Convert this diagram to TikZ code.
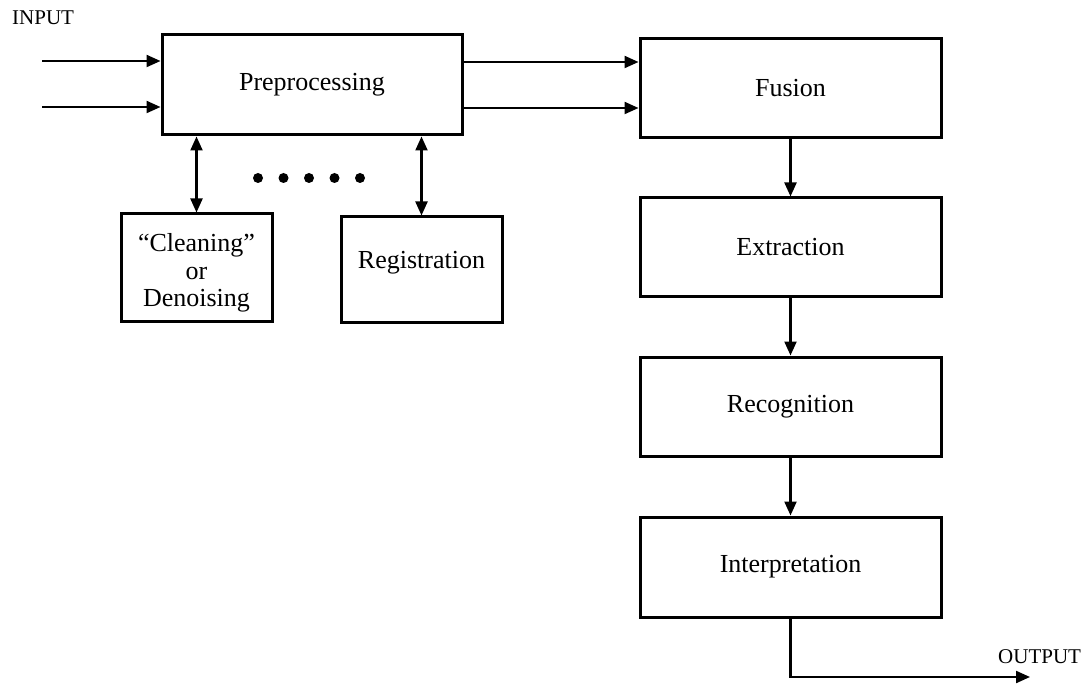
\documentclass[tikz,border=0pt]{standalone}
\usepackage{fontspec}
\setmainfont{Liberation Serif}
\usetikzlibrary{arrows.meta}
\begin{document}
\begin{tikzpicture}[x=1pt,y=-1pt,
  procbox/.style={draw=black, line width=3pt, inner sep=0pt, font=\fontsize{26}{31}\selectfont, align=center},
  lbl/.style={inner sep=0pt, font=\fontsize{21}{25}\selectfont},
  txt/.style={inner sep=0pt, font=\fontsize{26}{31}\selectfont, align=center},
  arr/.style={line width=2.2pt, -{Triangle[length=14pt,width=12pt]}},
  darr/.style={line width=2.2pt, {Triangle[length=14pt,width=12pt]}-{Triangle[length=14pt,width=12pt]}},
  dotmark/.style={fill=black, circle, inner sep=0pt, minimum size=10pt}]
\useasboundingbox (0,0) rectangle (1086,684);
% boxes
\node (pre) [procbox, minimum width=300pt, minimum height=100pt] at (312,85) {Preprocessing};
\node (fus) [procbox, minimum width=301pt, minimum height=99pt] at (790.5,88.5) {Fusion};
\node (ext) [procbox, minimum width=301pt, minimum height=99pt] at (790.5,247.5) {Extraction};
\node (rec) [procbox, minimum width=301pt, minimum height=99pt] at (790.5,406.5) {Recognition};
\node (intp) [procbox, minimum width=301pt, minimum height=100pt] at (790.5,567) {Interpretation};
\node (cln) [procbox, minimum width=151pt, minimum height=108pt] at (196.5,268) {};
\node (clnt) [txt, font=\fontsize{26}{27.5}\selectfont] at (196.5,273) {``Cleaning''\\or\\Denoising};
\node (reg) [procbox, minimum width=161pt, minimum height=106pt] at (421.5,270) {};
\node (regt) [txt] at (421.5,263) {Registration};
% labels
\node (inl) [lbl, anchor=west] at (12,18) {INPUT};
\node (outl) [lbl, anchor=west] at (998,657) {OUTPUT};
% input arrows
\coordinate (in1) at (42,61);
\coordinate (in2) at (42,107);
\draw[arr] (in1) -- (in1 -| pre.west);
\draw[arr] (in2) -- (in2 -| pre.west);
% preprocessing to fusion
\coordinate (m1) at (462,62);
\coordinate (m2) at (462,108);
\draw[arr] (m1 -| pre.east) -- (m1 -| fus.west);
\draw[arr] (m2 -| pre.east) -- (m2 -| fus.west);
% double arrows
\draw[darr] (cln.north |- pre.south) -- (cln.north);
\draw[darr] (reg.north |- pre.south) -- (reg.north);
% dots
\node (d1) [dotmark] at (258,178) {};
\node (d2) [dotmark] at (283.5,178) {};
\node (d3) [dotmark] at (309,178) {};
\node (d4) [dotmark] at (334.5,178) {};
\node (d5) [dotmark] at (360,178) {};
% vertical chain
\draw[arr] (fus.south) -- (ext.north);
\draw[arr] (ext.south) -- (rec.north);
\draw[arr] (rec.south) -- (intp.north);
% output
\coordinate (oend) at (1030,677);
\draw[arr] (intp.south) |- (oend);
\end{tikzpicture}
\end{document}
